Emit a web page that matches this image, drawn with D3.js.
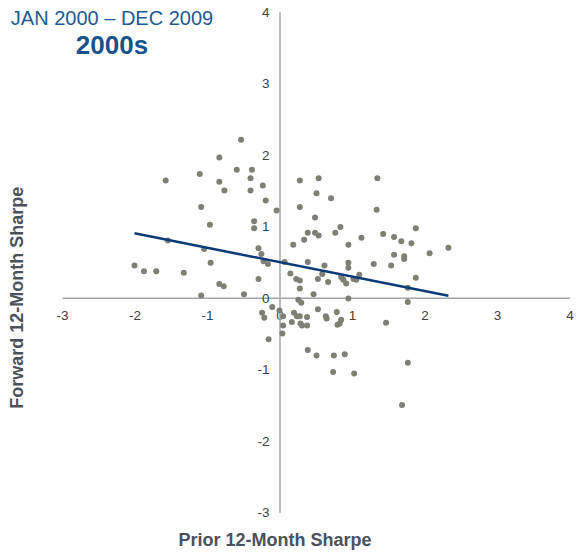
<!DOCTYPE html>
<html>
<head>
<meta charset="utf-8">
<script src="https://cdn.jsdelivr.net/npm/d3@7/dist/d3.min.js"></script>
<style>
  body { margin: 0; background: #fff; }
  text { font-family: "Liberation Sans", Arial, sans-serif; }
  .axis .domain { stroke: #a6a6a6; stroke-width: 1.5; }
  .axis text { fill: #404040; font-size: 13.5px; }
  .axis-label { fill: #4b515b; font-size: 18px; font-weight: bold; }
</style>
</head>
<body>
<div id="chart-area"></div>
<script>
// prior 12-month sharpe (x) and forward 12-month sharpe (y), one pair per month
const priorSharpe = [
  -0.53, -0.83, -1.10, -0.59, -0.38, -1.57, -0.83, -0.40, -0.76, -0.40,
  -0.23, -0.19, -1.08, -0.04, -0.35, -0.35, -0.96, -1.54, -1.04, -0.29,
  -0.25, -0.95, -0.22, -0.16, -2.00, -1.87, -1.70, -1.32, -0.29, -0.83,
  -0.77, -1.08, -0.49, -0.24, -0.21, -0.10, 0.00, -0.15, 0.05, 0.19,
  0.15, 0.23, 0.28, 0.28, 0.26, 0.30, 0.28, 0.28, 0.54, 1.35,
  0.51, 0.71, 1.34, 0.49, 0.84, 0.39, 0.49, 0.54, 0.77, 0.34,
  1.13, 1.43, 1.58, 1.68, 1.88, 1.82, 0.95, 2.33, 2.07, 1.58,
  1.72, 1.72, 0.39, 0.62, 0.95, 0.95, 1.30, 1.54, 0.59, 0.53,
  0.67, 0.85, 0.88, 0.92, 1.02, 1.06, 1.10, 1.88, 0.47, 0.95,
  1.77, 1.77, 0.20, 0.24, 0.17, 0.28, 0.29, 0.31, 0.38, 0.38,
  0.53, 0.64, 0.65, 0.79, 0.85, 0.83, 0.80, 1.47, 0.05, 0.04,
  0.39, 0.51, 0.75, 0.90, 0.74, 1.03, 1.77, 1.69, 0.07
];
const forwardSharpe = [
  2.21, 1.96, 1.73, 1.79, 1.79, 1.64, 1.62, 1.67, 1.50, 1.50,
  1.57, 1.36, 1.27, 1.22, 1.07, 0.97, 1.02, 0.80, 0.68, 0.69,
  0.61, 0.49, 0.51, 0.47, 0.45, 0.37, 0.37, 0.35, 0.26, 0.19,
  0.16, 0.03, 0.05, -0.21, -0.28, -0.13, -0.18, -0.58, -0.26, 0.74,
  0.34, 0.26, 0.24, 0.13, -0.03, -0.07, 1.64, 1.27, 1.67, 1.67,
  1.46, 1.39, 1.23, 1.12, 0.99, 0.91, 0.91, 0.87, 0.91, 0.81,
  0.84, 0.89, 0.85, 0.79, 0.97, 0.76, 0.74, 0.70, 0.62, 0.60,
  0.58, 0.54, 0.50, 0.45, 0.49, 0.42, 0.47, 0.45, 0.33, 0.26,
  0.22, 0.29, 0.25, 0.20, 0.26, 0.25, 0.32, 0.28, 0.05, -0.01,
  0.14, -0.06, -0.21, -0.26, -0.34, -0.26, -0.36, -0.39, -0.27, -0.39,
  -0.16, -0.26, -0.29, -0.20, -0.31, -0.36, -0.38, -0.35, -0.39, -0.50,
  -0.73, -0.81, -0.81, -0.79, -1.04, -1.06, -0.91, -1.50, 0.50
];
const xTicks = [-3, -2, -1, 0, 1, 2, 3, 4];
const yTicks = [-3, -2, -1, 0, 1, 2, 3, 4];
const period = 'JAN 2000 \u2013 DEC 2009';
const decade = '2000s';

const chartSize = { width: 577, height: 553 };

const x = d3.scaleLinear().domain([-3, 4]).range([62, 569.5]);
const y = d3.scaleLinear().domain([-3, 4]).range([512.2, 11.7]);

const points = priorSharpe.map((p, i) => ({ p, f: forwardSharpe[i] }));

// least squares fit, drawn over the range of the data like excel does
const fitLine = pts => {
  const mx = d3.mean(pts, d => d.p), my = d3.mean(pts, d => d.f);
  const sxy = d3.sum(pts, d => (d.p - mx) * (d.f - my));
  const sxx = d3.sum(pts, d => (d.p - mx) * (d.p - mx));
  const slope = sxy / sxx, icpt = my - slope * mx;
  const [lo, hi] = d3.extent(pts, d => d.p);
  return [{ p: lo, f: icpt + slope * lo }, { p: hi, f: icpt + slope * hi }];
};

const tickText = d => String(d); // plain hyphen minus, as in the original

const svg = d3.select('#chart-area').append('svg')
  .attr('width', chartSize.width)
  .attr('height', chartSize.height);

svg.append('g')
  .attr('class', 'x axis')
  .attr('transform', `translate(0,${y(0)})`)
  .call(d3.axisBottom(x).tickValues(xTicks).tickSize(0).tickPadding(13).tickFormat(tickText))
  .call(g => g.selectAll('.tick line').remove());

svg.append('g')
  .attr('class', 'y axis')
  .attr('transform', `translate(${x(0)},0)`)
  .call(d3.axisLeft(y).tickValues(yTicks).tickSize(0).tickPadding(10).tickFormat(tickText))
  .call(g => g.selectAll('.tick line').remove());

svg.selectAll('.axis text').attr('font-family', null);

svg.append('g').attr('class', 'points')
  .selectAll('circle')
  .data(points)
  .enter()
  .append('circle')
  .attr('cx', d => x(d.p))
  .attr('cy', d => y(d.f))
  .attr('r', 3)
  .attr('fill', '#7f7f76');

svg.append('path')
  .attr('d', d3.line().x(d => x(d.p)).y(d => y(d.f))(fitLine(points)))
  .attr('fill', 'none')
  .attr('stroke', '#0b3a78')
  .attr('stroke-width', 2.5);

svg.append('text')
  .attr('x', 112)
  .attr('y', 25)
  .attr('text-anchor', 'middle')
  .attr('font-size', 20)
  .attr('fill', '#1d5a95')
  .text(period);

svg.append('text')
  .attr('x', 112)
  .attr('y', 54)
  .attr('text-anchor', 'middle')
  .attr('font-size', 26)
  .attr('font-weight', 'bold')
  .attr('fill', '#17528c')
  .text(decade);

svg.append('text')
  .attr('class', 'axis-label')
  .attr('x', 275)
  .attr('y', 546)
  .attr('text-anchor', 'middle')
  .text('Prior 12-Month Sharpe');

svg.append('text')
  .attr('class', 'axis-label')
  .attr('transform', `translate(23,${y(0)}) rotate(-90)`)
  .attr('text-anchor', 'middle')
  .text('Forward 12-Month Sharpe');
</script>
</body>
</html>
